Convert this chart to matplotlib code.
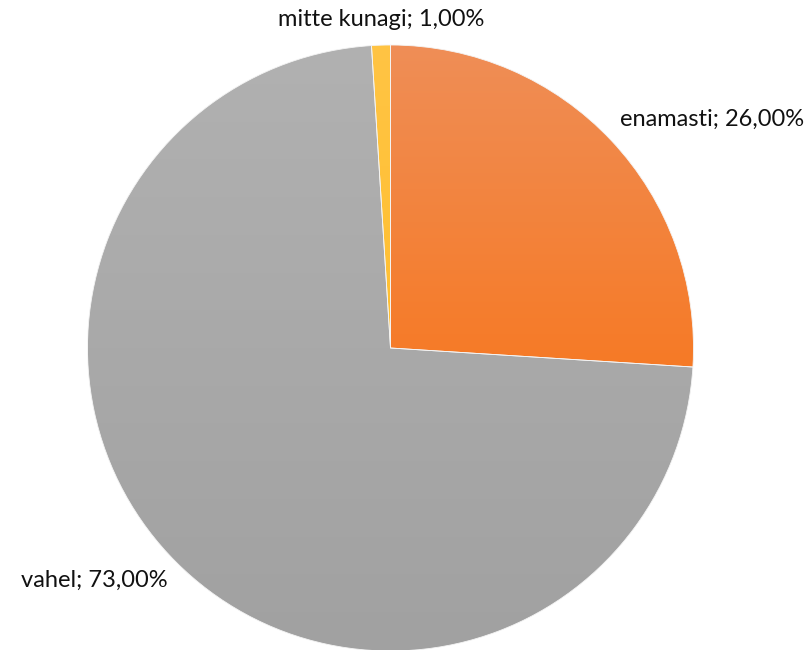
import numpy as np
import matplotlib
matplotlib.use("Agg")
import matplotlib.pyplot as plt
from matplotlib.colors import to_rgb

categories = ["enamasti", "vahel", "mitte kunagi"]
shares = [26.0, 73.0, 1.0]
top_colors = ["#EF8E57", "#B1B1B1", "#FFC444"]
bottom_colors = ["#F67A26", "#A1A1A1", "#FFBF30"]

plt.rcParams["font.family"] = ["Lato", "DejaVu Sans"]

W, H = 810, 650
fig = plt.figure(figsize=(W / 100, H / 100), dpi=100)
ax = fig.add_axes([0, 0, 1, 1])

cx, cy, r = 390.5, H - 348, 303
wedges, _ = ax.pie(shares, startangle=90, counterclock=False,
                   center=(cx, cy), radius=r, frame=True,
                   wedgeprops=dict(linewidth=0.6, edgecolor="#F4F4F4"))
ax.set_aspect("equal")
ax.axis("off")
ax.set_xlim(0, W)
ax.set_ylim(0, H)

# vertical gradient fill clipped to each wedge, spanning the wedge's own extent
n = 256
t = np.linspace(0, 1, n)[:, None]
for w, c0, c1 in zip(wedges, top_colors, bottom_colors):
    verts = ax.transData.inverted().transform(w.get_verts())
    x0, y0 = verts.min(axis=0)
    x1, y1 = verts.max(axis=0)
    a, b = np.array(to_rgb(c0)), np.array(to_rgb(c1))
    img = (a[None, None, :] * (1 - t[:, :, None]) + b[None, None, :] * t[:, :, None])
    img = np.repeat(img, 2, axis=1)
    im = ax.imshow(img, extent=(x0, x1, y0, y1),
                   origin="upper", aspect="auto", zorder=w.get_zorder() - 0.1,
                   interpolation="bilinear")
    im.set_clip_path(w)
    w.set_facecolor("none")

ax.set_xlim(0, W)
ax.set_ylim(0, H)

def lab(i):
    return f"{categories[i]}; {shares[i]:.2f}%".replace(".", ",")

fs = 17
ax.text(381, H - 20, lab(2), ha="center", va="center", fontsize=fs, color="#111111")
ax.text(712, H - 119, lab(0), ha="center", va="center", fontsize=fs, color="#111111")
ax.text(94, H - 580, lab(1), ha="center", va="center", fontsize=fs, color="#111111")

fig.savefig("out.png", dpi=100, facecolor="white")
